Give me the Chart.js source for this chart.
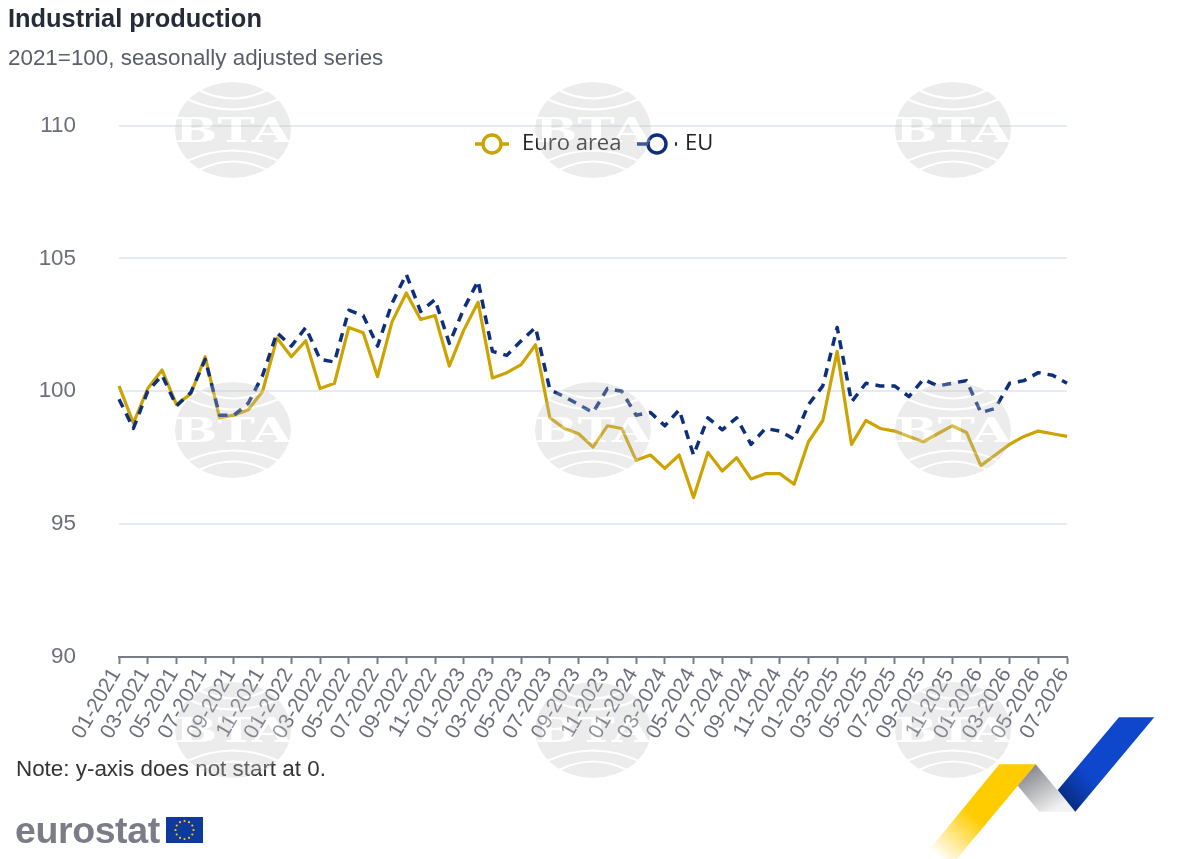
<!DOCTYPE html>
<html>
<head>
<meta charset="utf-8">
<title>Industrial production</title>
<script src="https://cdn.jsdelivr.net/npm/chart.js@4/dist/chart.umd.min.js"></script>
<style>
  html, body { margin: 0; padding: 0; background: #fff; }
  #page { position: relative; width: 1185px; height: 859px; overflow: hidden; font-family: "Liberation Sans", Arial, sans-serif; }
  #chart { position: absolute; left: 0; top: 0; }
  .title { position: absolute; left: 8px; top: 4px; font-size: 25.4px; font-weight: bold; color: #262b38; white-space: nowrap; }
  .subtitle { position: absolute; left: 8px; top: 45px; font-size: 22.4px; color: #5a5e6b; white-space: nowrap; }
  .note { position: absolute; left: 16px; top: 756px; font-size: 22.4px; color: #333; white-space: nowrap; }
  .brand { position: absolute; left: 15px; top: 809px; font-size: 37.5px; font-weight: bold; color: #7a7d87; letter-spacing: -0.4px; white-space: nowrap; }
  svg.layer { position: absolute; left: 0; top: 0; pointer-events: none; }
</style>
</head>
<body>
<div id="page">
  <canvas id="chart" width="1185" height="859"></canvas>
  <div class="title">Industrial production</div>
  <div class="subtitle">2021=100, seasonally adjusted series</div>
  <div class="note">Note: y-axis does not start at 0.</div>
  <svg id="marks" class="layer" width="1185" height="859"></svg>
  <div class="brand">eurostat</div>
  <svg id="ribbon" class="layer" width="1185" height="859">
    <defs>
      <linearGradient id="gYellow" gradientUnits="userSpaceOnUse" x1="1000" y1="790" x2="940" y2="859">
        <stop offset="0" stop-color="#ffcc00"/><stop offset="0.4" stop-color="#ffcc00"/><stop offset="1" stop-color="#ffffff"/>
      </linearGradient>
      <linearGradient id="gGrey" gradientUnits="userSpaceOnUse" x1="1025" y1="770" x2="1050" y2="812">
        <stop offset="0" stop-color="#85878d"/><stop offset="1" stop-color="#f1f1f1"/>
      </linearGradient>
      <linearGradient id="gBlue" gradientUnits="userSpaceOnUse" x1="1115" y1="760" x2="1066" y2="805">
        <stop offset="0" stop-color="#0e47cb"/><stop offset="0.45" stop-color="#0e47cb"/><stop offset="1" stop-color="#082a7f"/>
      </linearGradient>
    </defs>
    <polygon points="999.3,764.3 1035.7,764.3 956.7,859 921.7,859" fill="url(#gYellow)"/>
    <polygon points="1035.7,764.3 1075.3,811.7 1039.3,811.7 1017.7,785.7" fill="url(#gGrey)"/>
    <polygon points="1119,717.3 1154.3,717.3 1075.3,811.7 1057.7,790" fill="url(#gBlue)"/>
    <g id="flag"></g>
  </svg>
</div>
<script>
var categories = [
  '01-2021','02-2021','03-2021','04-2021','05-2021','06-2021','07-2021','08-2021','09-2021','10-2021','11-2021','12-2021',
  '01-2022','02-2022','03-2022','04-2022','05-2022','06-2022','07-2022','08-2022','09-2022','10-2022','11-2022','12-2022',
  '01-2023','02-2023','03-2023','04-2023','05-2023','06-2023','07-2023','08-2023','09-2023','10-2023','11-2023','12-2023',
  '01-2024','02-2024','03-2024','04-2024','05-2024','06-2024','07-2024','08-2024','09-2024','10-2024','11-2024','12-2024',
  '01-2025','02-2025','03-2025','04-2025','05-2025','06-2025','07-2025','08-2025','09-2025','10-2025','11-2025','12-2025',
  '01-2026','02-2026','03-2026','04-2026','05-2026','06-2026','07-2026'
];
var euroArea = [
  100.2, 98.8, 100.1, 100.8, 99.5, 99.9, 101.3, 99.0, 99.1, 99.3, 100.0, 102.0,
  101.3, 101.9, 100.1, 100.3, 102.4, 102.2, 100.55, 102.6, 103.7, 102.7, 102.85, 100.95,
  102.3, 103.35, 100.5, 100.7, 101.0, 101.75, 99.0, 98.6, 98.4, 97.9, 98.7, 98.6,
  97.4, 97.6, 97.1, 97.6, 96.0, 97.7, 97.0, 97.5, 96.7, 96.9, 96.9, 96.5,
  98.1, 98.9, 101.5, 98.0, 98.9, 98.6, 98.5, 98.3, 98.1, 98.4, 98.7, 98.45,
  97.2, 97.6, 98.0, 98.3, 98.5, 98.4, 98.3
];
var eu = [
  99.7, 98.6, 100.0, 100.6, 99.45, 99.95, 101.2, 99.1, 99.1, 99.55, 100.6, 102.2,
  101.7, 102.4, 101.2, 101.1, 103.05, 102.85, 101.7, 103.3, 104.4, 103.0, 103.45, 101.8,
  103.1, 104.15, 101.5, 101.35, 101.9, 102.4, 100.05, 99.8, 99.5, 99.2, 100.1, 100.0,
  99.1, 99.2, 98.7, 99.3, 97.6, 99.0, 98.55, 99.0, 98.0, 98.6, 98.5, 98.2,
  99.5, 100.2, 102.4, 99.6, 100.3, 100.2, 100.2, 99.8, 100.45, 100.2, 100.3, 100.4,
  99.2, 99.35, 100.3, 100.4, 100.7, 100.6, 100.3
];
var yTicks = [90, 95, 100, 105, 110];

var GOLD = '#cca300';
var NAVY = '#0e2f7c';
var AXIS = '#7a7d87';
var GRID = '#e6eaf4';
var TICK_TEXT = '#6b6f7b';

// Legend sits inside the plot, so it is drawn here instead of the built-in one.
var insideLegend = {
  id: 'insideLegend',
  afterDraw: function (chart) {
    var ctx = chart.ctx;
    var items = [
      { ds: chart.data.datasets[0], x0: 475, x1: 509, cx: 492, tx: 522, dash: [] },
      { ds: chart.data.datasets[1], x0: 637, x1: 677, cx: 657, tx: 685, dash: [10, 28] }
    ];
    ctx.save();
    items.forEach(function (it) {
      ctx.strokeStyle = it.ds.borderColor;
      ctx.lineWidth = 3.5;
      ctx.setLineDash(it.dash);
      ctx.beginPath(); ctx.moveTo(it.x0, 144); ctx.lineTo(it.x1, 144); ctx.stroke();
      ctx.setLineDash([]);
      ctx.fillStyle = '#fff';
      ctx.beginPath(); ctx.arc(it.cx, 144, 9, 0, Math.PI * 2); ctx.fill(); ctx.stroke();
      ctx.fillStyle = '#222';
      ctx.font = '22px "Open Sans"';
      ctx.textBaseline = 'middle';
      ctx.fillText(it.ds.label, it.tx, 143.5);
    });
    ctx.restore();
  }
};

new Chart(document.getElementById('chart'), {
  type: 'line',
  data: {
    labels: categories,
    datasets: [
      { label: 'Euro area', data: euroArea, borderColor: GOLD, borderWidth: 3.2, pointRadius: 0, tension: 0, borderJoinStyle: 'round', fill: false, order: 2 },
      { label: 'EU', data: eu, borderColor: NAVY, borderWidth: 3.5, borderDash: [9, 7], pointRadius: 0, tension: 0, borderJoinStyle: 'round', fill: false, order: 1 }
    ]
  },
  options: {
    responsive: false,
    animation: false,
    layout: { padding: { left: 0, right: 118, top: 125.5, bottom: 0 } },
    plugins: { legend: { display: false }, tooltip: { enabled: false }, title: { display: false } },
    scales: {
      x: {
        type: 'category',
        offset: false,
        afterBuildTicks: function (scale) {
          scale.ticks = scale.ticks.filter(function (t) { return t.value % 2 === 0; });
        },
        afterFit: function (scale) { scale.height = 202; },
        grid: { drawOnChartArea: false, drawTicks: true, tickLength: 7, tickColor: AXIS, tickWidth: 2, offset: false },
        border: { color: AXIS, width: 2 },
        ticks: { autoSkip: false, minRotation: 60, maxRotation: 60, padding: 0, labelOffset: -3, color: TICK_TEXT, font: { family: '"Liberation Sans"', size: 21 } }
      },
      y: {
        min: 90,
        max: 110,
        afterBuildTicks: function (scale) {
          scale.ticks = yTicks.map(function (v) { return { value: v }; });
        },
        afterFit: function (scale) { scale.width = 119; },
        grid: { color: GRID, lineWidth: 2, drawTicks: false },
        border: { display: false },
        ticks: { padding: 43, color: TICK_TEXT, font: { family: '"Liberation Sans"', size: 22.4 } }
      }
    }
  },
  plugins: [insideLegend]
});

// Watermarks, laid over the chart
var SVGNS = 'http://www.w3.org/2000/svg';
function svgEl(name, attrs, parent) {
  var n = document.createElementNS(SVGNS, name);
  Object.keys(attrs).forEach(function (k) { n.setAttribute(k, attrs[k]); });
  if (parent) parent.appendChild(n);
  return n;
}
var marks = document.getElementById('marks');
var defs = svgEl('defs', {}, marks);
var clip = svgEl('clipPath', { id: 'ball' }, defs);
svgEl('ellipse', { cx: 0, cy: 0, rx: 58, ry: 48 }, clip);
[233, 593, 953].forEach(function (cx) {
  [130, 430, 730].forEach(function (cy) {
    var g = svgEl('g', { transform: 'translate(' + cx + ',' + cy + ')', opacity: 0.3 }, marks);
    var inner = svgEl('g', { 'clip-path': 'url(#ball)' }, g);
    svgEl('ellipse', { cx: 0, cy: 0, rx: 58, ry: 48, fill: '#c0c0c0' }, inner);
    ['M-34,-40 Q0,-23 34,-40', 'M-46,-31 Q0,-10 46,-31', 'M-46,31 Q0,10 46,31', 'M-34,40 Q0,23 34,40'].forEach(function (d) {
      svgEl('path', { d: d, fill: 'none', stroke: '#fff', 'stroke-width': 2 }, inner);
    });
    var t = svgEl('text', {
      x: -58, y: 12, textLength: 116, lengthAdjust: 'spacingAndGlyphs',
      fill: '#fff', 'font-family': 'DejaVu Serif', 'font-weight': 'bold', 'font-size': 33
    }, g);
    t.textContent = 'BTA';
  });
});

// EU flag next to the wordmark
var flag = document.getElementById('flag');
svgEl('rect', { x: 166, y: 817, width: 37, height: 26, fill: '#0e3a9c' }, flag);
for (var i = 0; i < 12; i++) {
  var a = i * Math.PI / 6;
  svgEl('circle', { cx: 184.5 + 9 * Math.sin(a), cy: 830 - 9 * Math.cos(a), r: 1.1, fill: '#ffcc00' }, flag);
}
</script>
</body>
</html>
